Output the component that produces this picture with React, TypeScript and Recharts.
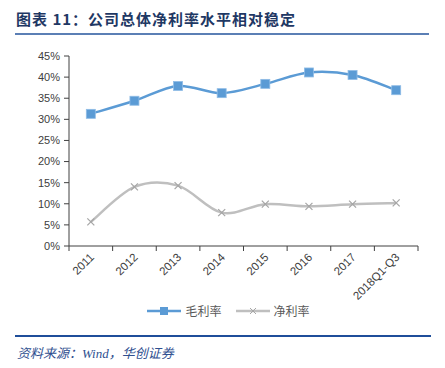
import React from "react";
import { LineChart, Line, XAxis, YAxis, Legend } from "recharts";

// 年份
const years = ["2011", "2012", "2013", "2014", "2015", "2016", "2017", "2018Q1-Q3"];
// 毛利率 (%)
const grossMargin = [31.3, 34.4, 37.9, 36.2, 38.4, 41.1, 40.5, 36.9];
// 净利率 (%)
const netMargin = [5.7, 14.0, 14.3, 7.9, 9.9, 9.4, 9.9, 10.2];
const yTicks = [0, 5, 10, 15, 20, 25, 30, 35, 40, 45];

const data = years.map((year, i) => ({
  year,
  gross: grossMargin[i],
  net: netMargin[i],
}));

const colors = {
  gross: "#5B9BD5",
  net: "#BFBFBF",
  axis: "#404040",
  text: "#404040",
};

// Excel 风格的平滑曲线
const excelCurve = (context: any) => {
  let pts: number[][] = [];
  return {
    areaStart() {},
    areaEnd() {},
    lineStart() {
      pts = [];
    },
    point(x: number, y: number) {
      pts.push([+x, +y]);
    },
    lineEnd() {
      if (!pts.length) return;
      context.moveTo(pts[0][0], pts[0][1]);
      for (let i = 0; i < pts.length - 1; i++) {
        const p0 = pts[i - 1] || pts[i];
        const p1 = pts[i];
        const p2 = pts[i + 1];
        const p3 = pts[i + 2] || p2;
        context.bezierCurveTo(
          p1[0] + (p2[0] - p0[0]) / 6,
          p1[1] + (p2[1] - p0[1]) / 6,
          p2[0] - (p3[0] - p1[0]) / 6,
          p2[1] - (p3[1] - p1[1]) / 6,
          p2[0],
          p2[1]
        );
      }
    },
  };
};

const SquareDot = (props: any) => {
  const { cx, cy } = props;
  if (cx == null || cy == null) return null;
  return (
    <rect
      x={cx - 4.5}
      y={cy - 4.5}
      width={9}
      height={9}
      fill={colors.gross}
      stroke="#8FBCE6"
      strokeWidth={0.8}
    />
  );
};

const CrossDot = (props: any) => {
  const { cx, cy } = props;
  if (cx == null || cy == null) return null;
  return (
    <g stroke="#A6A6A6" strokeWidth={1.2}>
      <line x1={cx - 3.5} y1={cy - 3.5} x2={cx + 3.5} y2={cy + 3.5} />
      <line x1={cx - 3.5} y1={cy + 3.5} x2={cx + 3.5} y2={cy - 3.5} />
    </g>
  );
};

// 刻度线放在类别之间
const XTick = (props: any) => {
  const { x, y, payload, index, visibleTicksCount } = props;
  const half = payload.offset || 0;
  const isLast = index === visibleTicksCount - 1;
  return (
    <g>
      <line x1={x - half} y1={y - 8} x2={x - half} y2={y - 3} stroke={colors.axis} />
      {isLast && (
        <line x1={x + half} y1={y - 8} x2={x + half} y2={y - 3} stroke={colors.axis} />
      )}
      <text
        x={x + 4}
        y={y + 4}
        textAnchor="end"
        fontSize={11.5}
        fill={colors.text}
        transform={`rotate(-45, ${x + 4}, ${y + 4})`}
      >
        {payload.value}
      </text>
    </g>
  );
};

const LegendContent = () => (
  <div
    style={{
      display: "flex",
      justifyContent: "center",
      alignItems: "center",
      fontSize: 12,
      color: "#595959",
      fontFamily: "'Noto Sans CJK SC', sans-serif",
      paddingLeft: 20,
    }}
  >
    <svg width={34} height={12}>
      <line x1={0} y1={6} x2={34} y2={6} stroke={colors.gross} strokeWidth={2.5} />
      <rect x={13} y={2} width={8} height={8} fill={colors.gross} />
    </svg>
    <span style={{ marginLeft: 4, marginRight: 14 }}>毛利率</span>
    <svg width={34} height={12}>
      <line x1={0} y1={6} x2={34} y2={6} stroke={colors.net} strokeWidth={2.5} />
      <g stroke="#A6A6A6" strokeWidth={1}>
        <line x1={14} y1={3} x2={20} y2={9} />
        <line x1={14} y1={9} x2={20} y2={3} />
      </g>
    </svg>
    <span style={{ marginLeft: 4 }}>净利率</span>
  </div>
);

const App = () => {
  return (
    <div
      style={{
        position: "absolute",
        left: 0,
        top: 0,
        width: 445,
        height: 368,
        background: "#fff",
        fontFamily: "'Liberation Sans', Arial, sans-serif",
      }}
    >
      <div
        style={{
          position: "absolute",
          left: 16,
          top: 8,
          fontSize: 15,
          fontWeight: 700,
          color: "#1F3864",
          fontFamily: "'Noto Sans CJK SC', sans-serif",
          letterSpacing: 1,
        }}
      >
        图表 11：公司总体净利率水平相对稳定
      </div>
      <div
        style={{
          position: "absolute",
          left: 15,
          top: 33,
          width: 414,
          height: 2,
          background: "#5B7FB5",
        }}
      />
      <div style={{ position: "absolute", left: 0, top: 0 }}>
        <LineChart
          width={445}
          height={322}
          data={data}
          margin={{ top: 56, right: 27, bottom: 0, left: 19 }}
        >
          <XAxis
            dataKey="year"
            scale="band"
            interval={0}
            tickLine={false}
            axisLine={{ stroke: colors.axis }}
            tick={<XTick />}
            height={56}
          />
          <YAxis
            width={50}
            domain={[0, 45]}
            ticks={yTicks}
            interval={0}
            tickFormatter={(v: number) => `${v}%`}
            tick={{ fontSize: 11, fill: colors.text }}
            tickSize={5}
            tickMargin={4}
            axisLine={{ stroke: colors.axis }}
            tickLine={{ stroke: colors.axis }}
          />
          <Legend verticalAlign="bottom" height={20} content={<LegendContent />} />
          <Line
            type={excelCurve as any}
            dataKey="gross"
            name="毛利率"
            stroke={colors.gross}
            strokeWidth={2.5}
            dot={<SquareDot />}
            activeDot={false}
            isAnimationActive={false}
          />
          <Line
            type={excelCurve as any}
            dataKey="net"
            name="净利率"
            stroke={colors.net}
            strokeWidth={2.5}
            dot={<CrossDot />}
            activeDot={false}
            isAnimationActive={false}
          />
        </LineChart>
      </div>
      <div
        style={{
          position: "absolute",
          left: 15,
          top: 335,
          width: 416,
          height: 1.5,
          background: "#1F4E9A",
        }}
      />
      <div
        style={{
          position: "absolute",
          left: 17,
          top: 343,
          fontSize: 13,
          fontStyle: "italic",
          color: "#2F4F8F",
          fontFamily: "'Liberation Serif', 'Noto Sans CJK SC', serif",
        }}
      >
        资料来源：Wind，华创证券
      </div>
    </div>
  );
};

export default App;
